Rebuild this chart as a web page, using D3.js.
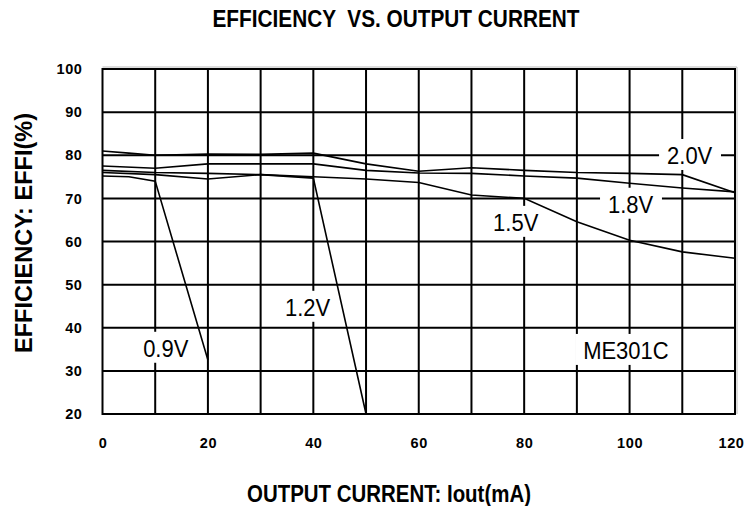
<!DOCTYPE html>
<html><head><meta charset="utf-8">
<script src="https://cdn.jsdelivr.net/npm/d3@7"></script>
<style>
body{margin:0;background:#fff;}
svg{display:block;}
</style></head>
<body>
<svg id="chart" width="747" height="506"></svg>
<script>
// ---- data ----
const xTicks = [0, 20, 40, 60, 80, 100, 120];
const xGrid = [10, 20, 30, 40, 50, 60, 70, 80, 90, 100, 110];
const yTicks = [20, 30, 40, 50, 60, 70, 80, 90, 100];
const seriesNames = ["2.0V", "1.8V", "1.5V", "1.2V", "0.9V"];
const current20 = [0, 5, 10, 20, 30, 40, 50, 60, 70, 80, 90, 100, 110, 120];
const eff20 = [81, 80.5, 80, 80.3, 80.2, 80.5, 78, 76.3, 77.1, 76.5, 76, 75.8, 75.5, 71.3];
const current18 = [0, 10, 20, 30, 40, 50, 60, 70, 80, 90, 100, 110, 120];
const eff18 = [77.5, 77, 78, 78, 78, 76.5, 75.9, 75.8, 75.2, 74.7, 73.5, 72.4, 71.5];
const current15 = [0, 10, 20, 30, 40, 50, 60, 70, 80, 90, 100, 110, 120];
const eff15 = [76.5, 76, 75.8, 75.5, 75, 74.5, 73.7, 70.8, 70, 64.6, 60.3, 57.6, 56.1];
const current12 = [0, 10, 20, 30, 40, 50];
const eff12 = [76, 75.5, 74.5, 75.5, 74.7, 20];
const current09 = [0, 5, 10, 20];
const eff09 = [75.2, 75, 74, 32.5];
const labelText = ["2.0V", "1.8V", "1.5V", "1.2V", "0.9V", "ME301C"];
const labelAt = [[111.4, 80], [100.2, 68.7], [78.4, 64.5], [38.9, 44.8], [12.0, 35.3], [99.3, 34.8]];

// ---- drawing ----
const svg = d3.select("#chart");
const x = d3.scaleLinear().domain([0, 120]).range([102.5, 735]);
const y = d3.scaleLinear().domain([20, 100]).range([414, 69]);

// faint shadow of the frame (top and right)
svg.append("path")
  .attr("d", `M${x(0)},${y(100) - 2}H${x(120) + 2}V${y(20)}`)
  .attr("fill", "none").attr("stroke", "#bbb").attr("stroke-width", 1);

// gridlines
svg.append("g").selectAll("line").data(xGrid).join("line")
  .attr("x1", d => x(d)).attr("x2", d => x(d))
  .attr("y1", y(100)).attr("y2", y(20))
  .attr("stroke", "#000").attr("stroke-width", 2);
svg.append("g").selectAll("line").data(yTicks.filter(d => d > 20 && d < 100)).join("line")
  .attr("x1", x(0)).attr("x2", x(120))
  .attr("y1", d => y(d)).attr("y2", d => y(d))
  .attr("stroke", "#000").attr("stroke-width", 2);
// frame
svg.append("rect").attr("x", x(0)).attr("y", y(100))
  .attr("width", x(120) - x(0)).attr("height", y(20) - y(100))
  .attr("fill", "none").attr("stroke", "#000").attr("stroke-width", 2);

// axes (labels only)
const xAxis = d3.axisBottom(x).tickValues(xTicks).tickSize(0).tickPadding(24);
const gx = svg.append("g").attr("transform", `translate(0,${y(20)})`).call(xAxis);
const yAxis = d3.axisLeft(y).tickValues(yTicks).tickSize(0).tickPadding(20);
const gy = svg.append("g").attr("transform", `translate(${x(0)},0)`).call(yAxis);
[gx, gy].forEach(g => {
  g.select(".domain").remove();
  g.selectAll("text").attr("font-family", "Liberation Sans, Arial, sans-serif")
    .attr("font-weight", "bold").attr("font-size", 14.5)
    .attr("letter-spacing", 0.6).attr("fill", "#000");
});
gx.selectAll(".tick text").filter(d => d === 120).attr("dx", -4);

// curve labels with white boxes
const lg = svg.append("g");
labelText.forEach((t, i) => {
  const cx = x(labelAt[i][0]), cy = y(labelAt[i][1]);
  const g = lg.append("g").attr("transform", `translate(${cx},${cy})`);
  const txt = g.append("text").text(t)
    .attr("text-anchor", "middle").attr("dy", "0.36em")
    .attr("font-family", "Liberation Sans, Arial, sans-serif")
    .attr("font-size", 22).attr("fill", "#000")
    .attr("transform", "scale(1,1.08)");
  const bb = txt.node().getBBox();
  g.insert("rect", "text")
    .attr("x", bb.x - 8).attr("y", bb.y * 1.08 - 3)
    .attr("width", bb.width + 16).attr("height", bb.height * 1.08 + 4)
    .attr("fill", "#fff");
});

// curves
const line = d3.line().x(d => x(d[0])).y(d => y(d[1]));
const series = [
  d3.zip(current20, eff20), d3.zip(current18, eff18), d3.zip(current15, eff15),
  d3.zip(current12, eff12), d3.zip(current09, eff09)
];
svg.append("g").selectAll("path").data(series).join("path")
  .attr("d", line).attr("fill", "none")
  .attr("stroke", "#000").attr("stroke-width", 1.6);

// titles
svg.append("text").attr("x", 396).attr("y", 27)
  .attr("text-anchor", "middle")
  .attr("font-family", "Liberation Sans Narrow, Arial Narrow, Liberation Sans, sans-serif")
  .attr("font-weight", "bold").attr("font-size", 23)
  .attr("textLength", 367).attr("lengthAdjust", "spacingAndGlyphs")
  .style("white-space", "pre")
  .text("EFFICIENCY  VS. OUTPUT CURRENT");
svg.append("text").attr("x", 389).attr("y", 502)
  .attr("text-anchor", "middle")
  .attr("font-family", "Liberation Sans Narrow, Arial Narrow, Liberation Sans, sans-serif")
  .attr("font-weight", "bold").attr("font-size", 23)
  .attr("textLength", 284).attr("lengthAdjust", "spacingAndGlyphs")
  .text("OUTPUT CURRENT: Iout(mA)");
svg.append("text")
  .attr("transform", "translate(32,233) rotate(-90)")
  .attr("text-anchor", "middle")
  .attr("font-family", "Liberation Sans Narrow, Arial Narrow, Liberation Sans, sans-serif")
  .attr("font-weight", "bold").attr("font-size", 23)
  .attr("textLength", 240).attr("lengthAdjust", "spacingAndGlyphs")
  .text("EFFICIENCY: EFFI(%)");
</script>
</body></html>
